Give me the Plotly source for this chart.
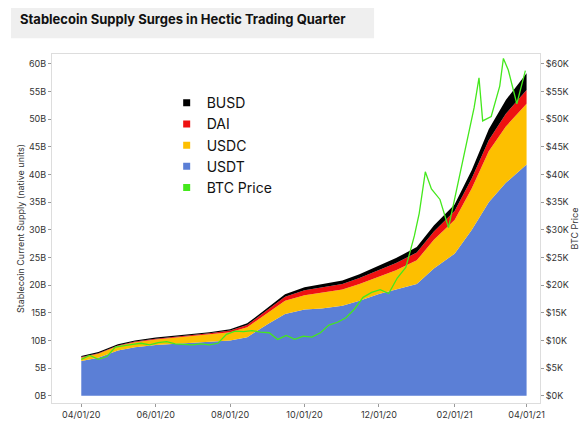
import plotly.graph_objects as go

# stablecoin supply, billions
supply_dates = ["2020-04-01", "2020-04-15", "2020-05-01", "2020-05-15", "2020-06-01", "2020-06-15",
                "2020-07-01", "2020-07-15", "2020-08-01", "2020-08-15", "2020-09-01", "2020-09-15",
                "2020-10-01", "2020-10-15", "2020-11-01", "2020-11-15", "2020-12-01", "2020-12-15",
                "2021-01-01", "2021-01-15", "2021-02-01", "2021-02-15", "2021-03-01", "2021-03-15",
                "2021-04-01"]
usdt = [6.3, 6.9, 8.2, 8.8, 9.2, 9.4, 9.6, 9.8, 10.0, 10.6, 13.0, 14.8,
        15.6, 15.8, 16.3, 17.2, 18.4, 19.2, 20.2, 23.0, 25.7, 30.0, 35.0, 38.5,
        41.8]
usdc = [0.6, 0.7, 0.8, 0.9, 1.0, 1.1, 1.2, 1.3, 1.5, 1.8, 2.1, 2.4,
        2.6, 2.8, 2.9, 3.0, 3.1, 3.5, 4.3, 5.2, 6.1, 7.5, 9.2, 10.2,
        11.0]
dai = [0.1, 0.1, 0.1, 0.1, 0.12, 0.13, 0.15, 0.2, 0.3, 0.4, 0.5, 0.7,
       0.9, 0.95, 1.0, 1.1, 1.2, 1.3, 1.4, 1.5, 1.6, 1.8, 2.0, 2.3,
       2.5]
busd = [0.2, 0.2, 0.2, 0.2, 0.2, 0.2, 0.2, 0.2, 0.25, 0.3, 0.35, 0.45,
        0.55, 0.6, 0.65, 0.7, 0.8, 0.9, 1.0, 1.1, 1.2, 1.5, 2.0, 2.5,
        3.0]

btc_dates = ["2020-04-01", "2020-04-08", "2020-04-15", "2020-04-22", "2020-04-29", "2020-05-06",
             "2020-05-13", "2020-05-20", "2020-05-27", "2020-06-03", "2020-06-10", "2020-06-17",
             "2020-06-24", "2020-07-01", "2020-07-08", "2020-07-15", "2020-07-22", "2020-07-29",
             "2020-08-05", "2020-08-12", "2020-08-19", "2020-08-26", "2020-09-02", "2020-09-09",
             "2020-09-16", "2020-09-23", "2020-09-30", "2020-10-07", "2020-10-14", "2020-10-21",
             "2020-10-28", "2020-11-04", "2020-11-11", "2020-11-18", "2020-11-25", "2020-12-02",
             "2020-12-09", "2020-12-16", "2020-12-23", "2020-12-30", "2021-01-03", "2021-01-08",
             "2021-01-13", "2021-01-20", "2021-01-27", "2021-02-03", "2021-02-10", "2021-02-17",
             "2021-02-21", "2021-02-24", "2021-03-03", "2021-03-10", "2021-03-13", "2021-03-17",
             "2021-03-24", "2021-03-31"]
btc = [6.6, 7.3, 6.6, 7.1, 8.8, 9.1,
       9.3, 9.5, 9.2, 9.6, 9.8, 9.4,
       9.3, 9.2, 9.4, 9.2, 9.5, 11.1,
       11.7, 11.6, 11.8, 11.5, 11.4, 10.2,
       10.9, 10.2, 10.8, 10.6, 11.4, 12.8,
       13.3, 14.1, 15.7, 17.8, 18.7, 19.2,
       18.5, 21.3, 23.2, 28.9, 33.0, 40.5,
       37.4, 35.5, 30.4, 37.6, 44.8, 52.1,
       57.5, 49.7, 50.5, 56.0, 61.0, 58.9,
       52.8, 58.8]

left_ticks = list(range(0, 61, 5))
right_ticks = list(range(0, 61, 5))

series = [("USDT", usdt, "#5b7fd6"), ("USDC", usdc, "#fdbf00"),
          ("DAI", dai, "#ee1111"), ("BUSD", busd, "#000000")]

fig = go.Figure()
for name, vals, color in series:
    fig.add_trace(go.Scatter(x=supply_dates, y=vals, name=name, stackgroup="s", mode="lines",
                             line=dict(width=0, color=color), fillcolor=color, showlegend=False))
fig.add_trace(go.Scatter(x=btc_dates, y=btc, name="BTC Price", yaxis="y2", mode="lines",
                         line=dict(color="#44e81c", width=1.3), showlegend=False))

# legend entries with square swatches
for name, color in [("BUSD", "#000000"), ("DAI", "#ee1111"), ("USDC", "#fdbf00"),
                    ("USDT", "#5b7fd6"), ("BTC Price", "#44e81c")]:
    fig.add_trace(go.Scatter(x=[None], y=[None], name=name, mode="markers",
                             marker=dict(symbol="square", size=7, color=color)))

axis_common = dict(showgrid=False, ticks="outside", ticklen=3, tickcolor="#999", zeroline=False)
fig.update_layout(
    width=588, height=424, margin=dict(l=44, r=56, t=46, b=26),
    paper_bgcolor="white", plot_bgcolor="white",
    font=dict(family="Inter, Roboto, sans-serif", size=9, color="#333"),
    legend=dict(x=0.235, y=0.905, font=dict(size=14, color="#111"), bgcolor="rgba(0,0,0,0)",
                traceorder="normal", itemwidth=30, tracegroupgap=0),
    xaxis=dict(type="date", tickformat="%m/%d/%y", dtick="M2", tick0="2020-04-01",
               range=["2020-03-08", "2021-04-12"], linecolor="#ddd", showline=True, mirror=True,
               **axis_common),
    yaxis=dict(range=[-1.3, 61.8], tickvals=left_ticks, ticktext=[f"{v}B" for v in left_ticks],
               linecolor="#ddd", showline=True, mirror=True,
               title=dict(text="Stablecoin Current Supply (native units)", font=dict(size=9), standoff=2),
               **axis_common),
    yaxis2=dict(overlaying="y", side="right", range=[-1.3, 61.8], tickvals=right_ticks,
                ticktext=[f"${v}K" for v in right_ticks],
                title=dict(text="BTC Price", font=dict(size=9), standoff=2), **axis_common),
)
fig.add_shape(type="rect", xref="paper", yref="paper", x0=-0.084, x1=0.66, y0=1.045, y1=1.16,
              fillcolor="#efefef", line_width=0, layer="below")
fig.add_annotation(text="<b>Stablecoin Supply Surges in Hectic Trading Quarter</b>", xref="paper",
                   yref="paper", x=-0.07, y=1.1, xanchor="left", yanchor="middle",
                   showarrow=False, font=dict(size=13, color="#111"))
fig.write_html("out.html")
